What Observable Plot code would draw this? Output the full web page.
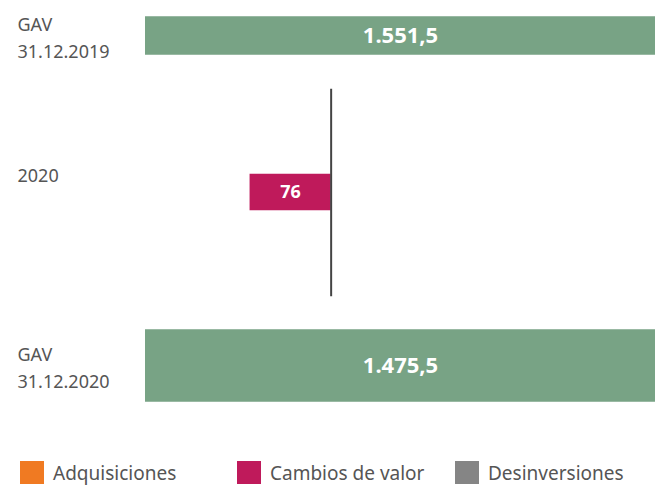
<!DOCTYPE html>
<html>
<head>
<meta charset="utf-8">
<script src="https://cdn.jsdelivr.net/npm/d3@7"></script>
<script src="https://cdn.jsdelivr.net/npm/@observablehq/plot@0.6"></script>
<style>
  html, body { margin: 0; padding: 0; background: #fff; }
  #wrap { position: relative; width: 655px; height: 486px; font-family: "Noto Sans", sans-serif; }
  #legend { position: absolute; top: 461px; left: 20px; display: flex; }
  .item { display: flex; align-items: center; height: 23px; font-size: 19px; color: #555; }
  .sw { width: 24px; height: 23px; margin-right: 9px; flex: none; }
</style>
</head>
<body>
<div id="wrap"><div id="chart"></div><div id="legend"></div></div>
<script>
// Rows (categories) of the waterfall
const rows = ["GAV 31.12.2019", "2020", "GAV 31.12.2020"];
const rowLabels = ["GAV\n31.12.2019", "2020", "GAV\n31.12.2020"];

// Totals (GAV, millions)
const gavRows = ["GAV 31.12.2019", "GAV 31.12.2020"];
const gavValues = [1551.5, 1475.5];

// Changes during 2020
const changeTypes = ["Adquisiciones", "Cambios de valor", "Desinversiones"];
const changeValues2020 = [0, -76, 0];
const changeColors = ["#f07a22", "#bf1a5b", "#858585"];
const gavColor = "#78a385";

const fmt = d3.formatLocale({decimal: ",", thousands: ".", grouping: [3], currency: ["", "€"]}).format(",.1f");

const gav = gavRows.map((r, i) => ({row: r, value: gavValues[i]}));
const changes = changeTypes.map((t, i) => ({row: "2020", type: t, value: changeValues2020[i]}))
  .filter(d => d.value !== 0);
const labels = rows.map((r, i) => ({row: r, label: rowLabels[i]}));
const baseline = [{row: "2020", value: 0}];

const colorOf = t => changeColors[changeTypes.indexOf(t)];

const chart = Plot.plot({
  width: 655,
  height: 450,
  marginLeft: 145,
  marginRight: 0,
  marginTop: 0,
  marginBottom: 0,
  style: {fontFamily: "Noto Sans, sans-serif", background: "transparent"},
  x: {domain: [-174, 304], axis: null},
  y: {domain: rows, range: [-48.25, 448.25], padding: 0, axis: null},
  marks: [
    // GAV total bars (full-width boxes)
    Plot.cell(gav.filter(d => d.row === gavRows[0]), {y: "row", fill: gavColor, insetTop: 63.25, insetBottom: 63.25}),
    Plot.cell(gav.filter(d => d.row === gavRows[1]), {y: "row", fill: gavColor, insetTop: 46.25, insetBottom: 46.25}),
    Plot.text(gav, {y: "row", text: d => fmt(d.value), fill: "white", fontWeight: "bold", fontSize: 22, letterSpacing: 1.4}),
    // 2020 change bars
    Plot.barX(changes, {y: "row", x1: "value", x2: 0, fill: d => colorOf(d.type), insetTop: 55.75, insetBottom: 72.75}),
    Plot.text(changes, {y: "row", x: d => d.value / 2, text: d => d3.format("d")(Math.abs(d.value)), fill: "white", fontWeight: "bold", fontSize: 18, dy: -8.5}),
    // baseline rule
    Plot.tickX(baseline, {x: "value", y: "row", stroke: "#444", strokeWidth: 2, insetTop: -29.25, insetBottom: -13.25}),
    // row labels
    Plot.text(labels.filter(d => d.row !== "2020"), {y: "row", text: "label", frameAnchor: "left", textAnchor: "start", dx: -128, fontSize: 18, lineHeight: 1.52, fill: "#555"}),
    Plot.text(labels.filter(d => d.row === "2020"), {y: "row", text: "label", frameAnchor: "left", textAnchor: "start", dx: -128, dy: -25, fontSize: 18, fill: "#555"})
  ]
});
document.getElementById("chart").appendChild(chart);

// Legend
const legend = document.getElementById("legend");
const itemWidths = [217, 218, 200];
changeTypes.forEach((t, i) => {
  const it = document.createElement("div");
  it.className = "item";
  it.style.width = itemWidths[i] + "px";
  const sw = document.createElement("span");
  sw.className = "sw";
  sw.style.background = changeColors[i];
  const tx = document.createElement("span");
  tx.textContent = t;
  it.appendChild(sw);
  it.appendChild(tx);
  legend.appendChild(it);
});
</script>
</body>
</html>
